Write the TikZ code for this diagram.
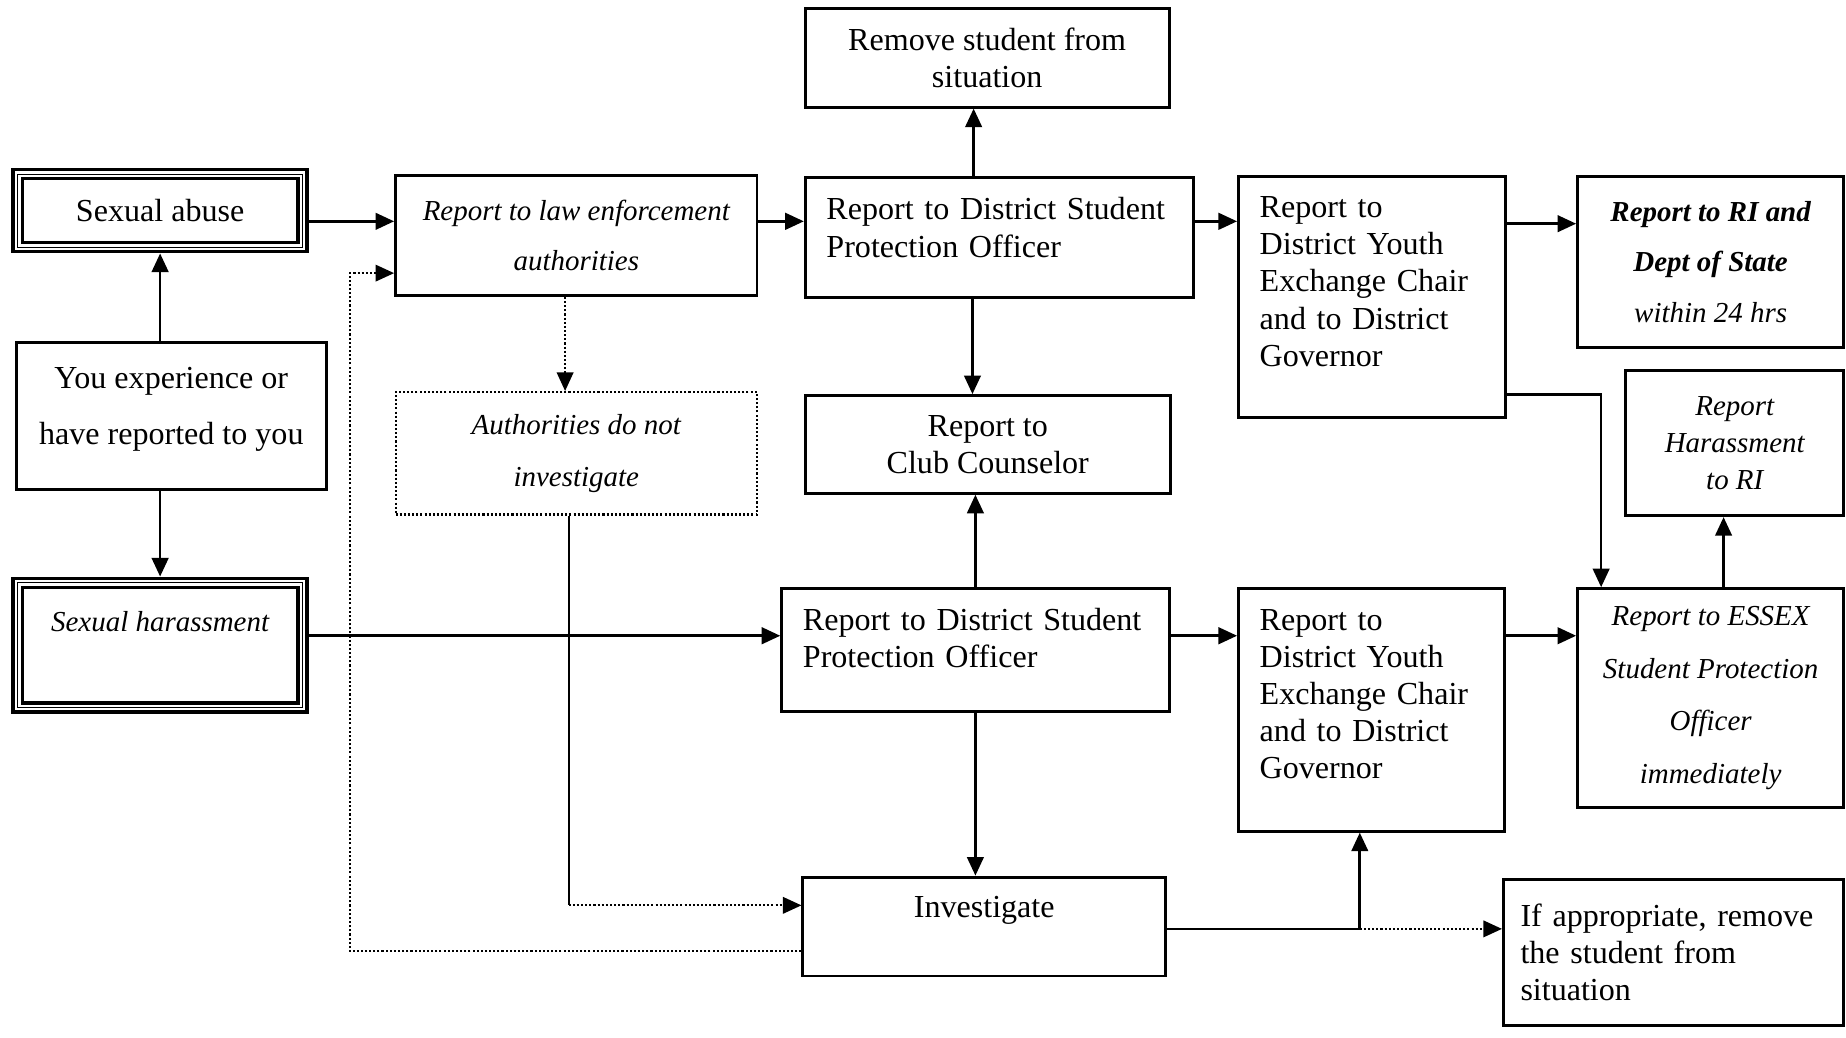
\documentclass[tikz,border=0pt]{standalone}
\usepackage{fontspec}
\setmainfont{Liberation Serif}
\usetikzlibrary{arrows.meta}
\newcommand{\rmbox}{\fontsize{15.5}{18}\selectfont}
\newcommand{\itbox}{\fontsize{14}{18}\selectfont\itshape}
\tikzset{
  box/.style={draw, line width=1.4pt, align=center, font=\rmbox},
  itbox/.style={box, font=\itbox},
  leftbox/.style={box, align=left, inner xsep=0.36cm},
  dotbox/.style={itbox, line width=1pt, densely dotted},
  triple/.style={draw=white, line width=2.8pt, preaction={draw=black, line width=6pt},
    postaction={draw=black, line width=0.6pt}, outer sep=3pt, align=center, font=\rmbox},
  arr/.style={line width=1.3pt, -{Triangle[length=9pt,width=8pt]}},
  dotarr/.style={line width=1pt, densely dotted, -{Triangle[length=9pt,width=8pt]}}
}
\begin{document}
\begin{tikzpicture}
\useasboundingbox (0,0) rectangle (31.36,-17.62);
\draw (2.72,-3.58) node[triple, minimum width=4.84cm, minimum height=1.24cm] (Abuse) {Sexual abuse};
\draw (2.91,-7.07) node[box, minimum width=5.26cm, minimum height=2.5cm] (You) {You experience or\\[9.3pt]have reported to you\\[-8.3pt]\mbox{}};
\draw (2.72,-10.96) node[triple, minimum width=4.84cm, minimum height=2.12cm, font=\itbox] (Harass) {Sexual harassment\\[4.8pt]\mbox{}};
	\draw (9.79,-4.00) node[itbox, minimum width=6.14cm, minimum height=2.04cm] (Law) {Report to law enforcement\\[5.9pt]authorities};
	\draw (9.79,-7.70) node[dotbox, minimum width=6.14cm, minimum height=2.08cm] (Auth) {Authorities do not\\[7pt]investigate};
		\draw (16.77,-0.98) node[box, minimum width=6.18cm, minimum height=1.68cm] (Remove) {Remove student from\\situation};
		\draw (16.98,-4.04) node[leftbox, text width=5.88cm, minimum width=6.60cm, minimum height=2.04cm] (OfficerA) {Report to District Student\\Protection Officer\\[-8pt]\mbox{}};
		\draw (16.78,-7.55) node[box, minimum width=6.20cm, minimum height=1.66cm] (Club) {Report to\\Club Counselor};
		\draw (16.57,-11.04) node[leftbox, text width=5.86cm, minimum width=6.58cm, minimum height=2.08cm] (OfficerB) {Report to District Student\\Protection Officer\\[-6.5pt]\mbox{}};
		\draw (16.72,-15.74) node[box, minimum width=6.16cm, minimum height=1.68cm] (Invest) {Investigate\\[1pt]\mbox{}};
			\draw (23.31,-5.05) node[leftbox, text width=3.82cm, minimum width=4.54cm, minimum height=4.10cm] (YouthA) {Report to\\District Youth\\Exchange Chair\\and to District\\Governor\\[-2.6pt]\mbox{}};
			\draw (23.30,-12.06) node[leftbox, text width=3.80cm, minimum width=4.52cm, minimum height=4.12cm] (YouthB) {Report to\\District Youth\\Exchange Chair\\and to District\\Governor\\[-2.6pt]\mbox{}};
				\draw (29.06,-4.45) node[itbox, minimum width=4.52cm, minimum height=2.90cm] (RIState) {{\bfseries Report to RI and}\\[6.5pt]{\bfseries Dept of State}\\[6.5pt]within 24 hrs};
				\draw (29.47,-7.53) node[itbox, minimum width=3.70cm, minimum height=2.46cm] (RIHarass) {Report\\Harassment\\to RI};
				\draw (29.06,-11.86) node[itbox, minimum width=4.52cm, minimum height=3.72cm] (Essex) {Report to ESSEX\\[7.4pt]Student Protection\\[7.4pt]Officer\\[7.4pt]immediately};
				\draw (28.43,-16.18) node[leftbox, inner xsep=0.29cm, text width=5.20cm, minimum width=5.78cm, minimum height=2.48cm] (RemoveIf) {If appropriate, remove\\the student from\\situation};

\coordinate (AuthTurn) at (9.66,-15.38);
\coordinate (LoopLow) at (5.94,-16.16);
\coordinate (LoopHigh) at (5.94,-4.64);
\coordinate (InvestJoin) at (23.10,-15.78);
\coordinate (YouthTurn) at (27.20,-6.70);

\draw[arr] (You.north -| Abuse) -- (Abuse.south);
\draw[arr] (You.south -| Harass) -- (Harass.north);
\draw[arr] ([yshift=-0.18cm]Abuse.east) -- ([yshift=-0.18cm]Abuse.east -| Law.west);
\draw[arr] ([yshift=0.24cm]Law.east) -- ([yshift=0.24cm]Law.east -| OfficerA.west);
\draw[arr] ([xshift=-0.44cm]OfficerA.north) -- ([xshift=-0.44cm]OfficerA.north |- Remove.south);
\draw[arr] ([xshift=-0.46cm]OfficerA.south) -- ([xshift=-0.46cm]OfficerA.south |- Club.north);
\draw[arr] ([yshift=0.28cm]OfficerA.east) -- ([yshift=0.28cm]OfficerA.east -| YouthA.west);
\draw[arr] ([yshift=1.25cm]YouthA.east) -- ([yshift=1.25cm]YouthA.east -| RIState.west);
\draw[arr] (YouthA.east |- YouthTurn) -- (YouthTurn) -- (YouthTurn |- Essex.north);
\draw[arr] ([xshift=-0.19cm]RIHarass.south |- Essex.north) -- ([xshift=-0.19cm]RIHarass.south);
\draw[dotarr] ([xshift=-0.19cm]Law.south) -- ([xshift=-0.19cm]Law.south |- Auth.north);
\draw[line width=1.1pt] (Auth.south -| AuthTurn) -- (AuthTurn);
\draw[dotarr] (AuthTurn) -- (AuthTurn -| Invest.west);
\draw[dotarr] (Invest.west |- LoopLow) -- (LoopLow) -- (LoopHigh) -- (LoopHigh -| Law.west);
\draw[arr] ([yshift=0.16cm]Harass.east) -- ([yshift=0.16cm]Harass.east -| OfficerB.west);
\draw[arr] (OfficerB.north) -- (OfficerB.north |- Club.south);
\draw[arr] (OfficerB.south) -- (OfficerB.south |- Invest.north);
\draw[arr] ([yshift=0.24cm]OfficerB.east) -- ([yshift=0.24cm]OfficerB.east -| YouthB.west);
\draw[arr] ([yshift=1.26cm]YouthB.east) -- ([yshift=1.26cm]YouthB.east -| Essex.west);
\draw[arr] (Invest.east |- InvestJoin) -- (InvestJoin) -- (InvestJoin |- YouthB.south);
\draw[dotarr] (InvestJoin) -- (InvestJoin -| RemoveIf.west);
\end{tikzpicture}
\end{document}
